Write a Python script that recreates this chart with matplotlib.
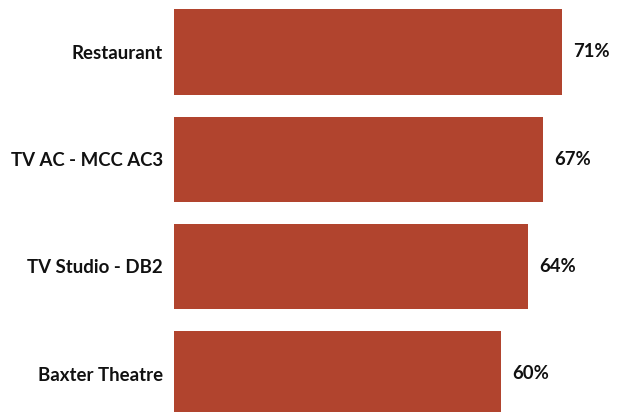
import matplotlib.pyplot as plt

# valeurs (pourcentages)
lieux = ["Restaurant", "TV AC - MCC AC3", "TV Studio - DB2", "Baxter Theatre"]
valeurs = [70.6, 67.1, 64.45, 59.55]

couleur = "#B1442E"

plt.rcParams["font.family"] = ["Lato", "DejaVu Sans"]

fig = plt.figure(figsize=(6.2, 4.12), dpi=100)
ax = fig.add_axes([174 / 620, 0, 1 - 174 / 620, 1])

positions = list(range(len(lieux)))
ax.barh(positions, valeurs, height=0.796, color=couleur)

for pos, val in zip(positions, valeurs):
    ax.annotate(f"{val:.0f}%", (val, pos), xytext=(11, 0), textcoords="offset pixels",
                va="center", ha="left", fontsize=13.3, fontweight="bold", color="#111111")

ax.set_yticks(positions)
ax.set_yticklabels(lieux, fontsize=13.4, fontweight="bold", color="#111111")
ax.tick_params(axis="y", length=0, pad=8)
ax.set_xticks([])

ax.set_xlim(0, (620 - 174) / 5.497)
ax.set_ylim(3.358, -0.485)

for cote in ax.spines.values():
    cote.set_visible(False)

plt.savefig("out.png", dpi=100)
